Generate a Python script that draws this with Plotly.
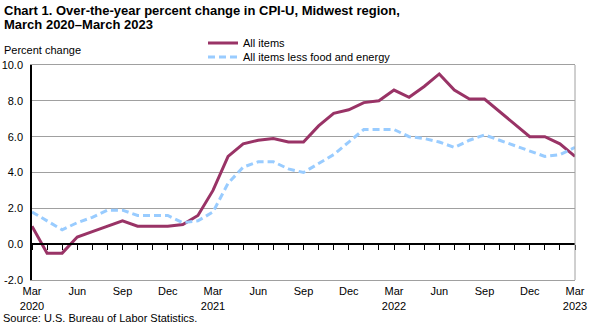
import plotly.graph_objects as go

months = ["Mar 2020","Apr 2020","May 2020","Jun 2020","Jul 2020","Aug 2020","Sep 2020","Oct 2020","Nov 2020","Dec 2020",
          "Jan 2021","Feb 2021","Mar 2021","Apr 2021","May 2021","Jun 2021","Jul 2021","Aug 2021","Sep 2021","Oct 2021",
          "Nov 2021","Dec 2021","Jan 2022","Feb 2022","Mar 2022","Apr 2022","May 2022","Jun 2022","Jul 2022","Aug 2022",
          "Sep 2022","Oct 2022","Nov 2022","Dec 2022","Jan 2023","Feb 2023","Mar 2023"]
all_items = [1.0,-0.5,-0.5,0.4,0.7,1.0,1.3,1.0,1.0,1.0,
             1.1,1.6,3.0,4.9,5.6,5.8,5.9,5.7,5.7,6.6,
             7.3,7.5,7.9,8.0,8.6,8.2,8.8,9.5,8.6,8.1,
             8.1,7.4,6.7,6.0,6.0,5.6,4.9]
core = [1.8,1.3,0.8,1.2,1.5,1.9,1.9,1.6,1.6,1.6,
        1.2,1.3,1.8,3.4,4.3,4.6,4.6,4.2,4.0,4.5,
        5.0,5.7,6.4,6.4,6.4,6.0,5.9,5.7,5.4,5.8,
        6.1,5.8,5.5,5.2,4.9,5.0,5.4]
tick_idx = [0,3,6,9,12,15,18,21,24,27,30,33,36]
tick_text = ["Mar<br>2020","Jun","Sep","Dec","Mar<br>2021","Jun","Sep","Dec","Mar<br>2022","Jun","Sep","Dec","Mar<br>2023"]
y_vals = [-2,0,2,4,6,8,10]
y_text = ["-2.0","0.0","2.0","4.0","6.0","8.0","10.0"]

x = list(range(len(months)))
FONT = "Liberation Sans, Arial, sans-serif"

L, R, T, B = 32, 20, 65, 46
PW, PH = 595 - L - R, 326 - T - B
def px_x(p):
    return (p - L) / PW
def px_y(p):
    return (326 - B - p) / PH

fig = go.Figure()
fig.add_trace(go.Scatter(x=x, y=all_items, mode="lines", name="All items", legend="legend",
                         line=dict(color="#993366", width=3), text=months))
fig.add_trace(go.Scatter(x=x, y=core, mode="lines", name="All items less food and energy", legend="legend2",
                         line=dict(color="#99ccff", width=3, dash="7px,4px"), text=months))
# invisible trace on the zero-line tick axis
fig.add_trace(go.Scatter(x=x, y=core, xaxis="x2", mode="lines", showlegend=False,
                         line=dict(color="rgba(0,0,0,0)"), hoverinfo="skip"))

leg = dict(xanchor="left", yanchor="middle", bgcolor="rgba(0,0,0,0)", font=dict(size=11),
           borderwidth=0)
fig.update_layout(
    width=595, height=326,
    margin=dict(l=L, r=R, t=T, b=B, autoexpand=False),
    paper_bgcolor="white", plot_bgcolor="white",
    font=dict(family=FONT, size=11, color="black"),
    xaxis=dict(range=[0, 36], tickvals=tick_idx, ticktext=tick_text, showgrid=False, zeroline=False,
               showline=True, linecolor="#a0a0a0", linewidth=1, mirror=True, ticks="",
               tickfont=dict(size=11), automargin=False, ticklabelstandoff=1),
    xaxis2=dict(range=[0, 36], overlaying="x", anchor="free", position=1/6, side="bottom",
                tickvals=list(range(0, 37)), showticklabels=False, ticks="outside", ticklen=5,
                tickcolor="black", tickwidth=1, showline=True, linecolor="black", linewidth=1.5,
                showgrid=False, zeroline=False, automargin=False),
    yaxis=dict(range=[-2, 10], tickvals=y_vals, ticktext=y_text, showgrid=True, gridcolor="#a0a0a0",
               gridwidth=1, zeroline=False, showline=True, linecolor="black", linewidth=1.5,
               ticks="", tickfont=dict(size=11), automargin=False, ticklabelstandoff=5),
    legend=dict(x=px_x(203), y=px_y(43), **leg),
    legend2=dict(x=px_x(203), y=px_y(57), **leg),
    shapes=[dict(type="line", xref="x domain", yref="y domain", x0=1, x1=1, y0=0, y1=1,
                 line=dict(color="#a0a0a0", width=1))],
    annotations=[
        dict(text="<b>Chart 1. Over-the-year percent change in CPI-U, Midwest region,</b>",
             xref="paper", yref="paper", x=px_x(2), y=px_y(10), xanchor="left", yanchor="middle",
             showarrow=False, font=dict(size=13)),
        dict(text="<b>March 2020\u2013March 2023</b>",
             xref="paper", yref="paper", x=px_x(2), y=px_y(24), xanchor="left", yanchor="middle",
             showarrow=False, font=dict(size=13)),
        dict(text="Percent change", xref="paper", yref="paper", x=px_x(2), y=px_y(50),
             xanchor="left", yanchor="middle", showarrow=False, font=dict(size=11)),
        dict(text="Source: U.S. Bureau of Labor Statistics.", xref="paper", yref="paper",
             x=px_x(1), y=px_y(318), xanchor="left", yanchor="middle", showarrow=False,
             font=dict(size=11)),
    ],
)
fig.write_html("out.html")
